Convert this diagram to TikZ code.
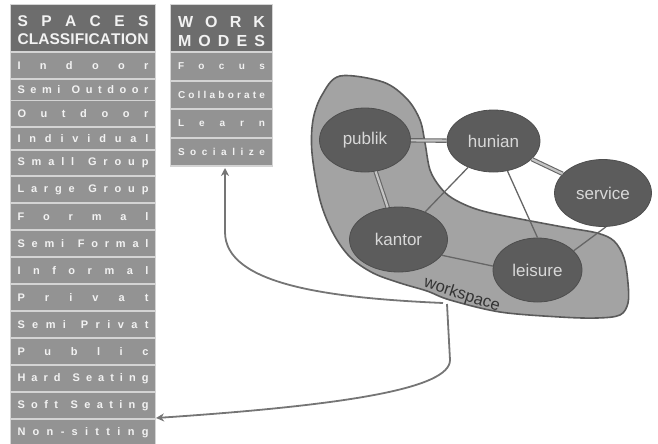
\documentclass[tikz,border=0pt]{standalone}
\usepackage{fontspec}
\setmainfont{Liberation Sans}
\usetikzlibrary{shapes.geometric,arrows.meta}
\definecolor{hdr}{HTML}{6D6D6D}
\definecolor{rowc}{HTML}{939393}
\definecolor{sepc}{HTML}{D4D4D4}
\definecolor{dblc}{HTML}{C4C4C4}
\definecolor{blobc}{HTML}{A3A3A3}
\definecolor{blobline}{HTML}{5A5A5A}
\definecolor{ellc}{HTML}{5C5C5C}
\definecolor{linec}{HTML}{666666}
\definecolor{txtl}{HTML}{F2F2F2}
\definecolor{elltxt}{HTML}{D8D8D8}
\definecolor{wstxt}{HTML}{333333}
\ExplSyntaxOn
\tl_new:N \l_spr_tl
\NewDocumentCommand \spreadtext { m m }
  {
    \tl_set:Nn \l_spr_tl { #2 }
    \tl_replace_all:Nnn \l_spr_tl { ~ } { | }
    \makebox[#1][s]{ \tl_map_inline:Nn \l_spr_tl { \str_if_eq:nnTF {##1} {|} { \hfill } { ##1 \hfill } } \unskip }
  }
\ExplSyntaxOff
\tikzset{
  colbg/.style={fill=sepc, draw=none, inner sep=0pt, outer sep=0pt},
  hdrbox/.style={fill=hdr, draw=none, inner sep=0pt, outer sep=0pt},
  hdrtxt/.style={inner sep=0pt, align=center, text=txtl, font=\fontsize{15.5}{18}\selectfont\bfseries},
  rowL/.style={fill=rowc, draw=none, inner sep=0pt, outer sep=0pt, minimum width=144pt, text=txtl, font=\fontsize{11}{12}\selectfont\bfseries},
  rowW/.style={rowL, minimum width=101pt, font=\fontsize{10}{11}\selectfont\bfseries},
  ell/.style={ellipse, fill=ellc, draw=ellc!85!black, line width=0.8pt, text=elltxt, inner sep=0pt, font=\fontsize{17}{20}\selectfont},
  link/.style={draw=linec, line width=1.3pt},
  dbl/.style={draw=linec, line width=1.1pt, double=dblc, double distance=2.2pt},
  conn/.style={draw=linec!90!white, line width=1.8pt, -{Stealth[length=8pt,width=8pt,inset=2.5pt]}},
  blob/.style={fill=blobc, draw=blobline, line width=1.6pt},
}
\begin{document}
\begin{tikzpicture}[x=1pt,y=-1pt]
\useasboundingbox (0,0) rectangle (658,444);
% ---------- spaces classification column
\node[colbg, minimum width=146pt, minimum height=442pt] (spacescol) at (83,225) {};
\node[hdrbox, minimum width=144pt, minimum height=46pt] (spaceshdr) at (83,28) {};
\node[hdrtxt] (spacestitle) at (83,30) {\spreadtext{131pt}{SPACES}\\\spreadtext{131pt}{CLASSIFICATION}};
\node[rowL, minimum height=25pt] (r1) at (83,65.5) {\spreadtext{131pt}{Indoor}};
\node[rowL, minimum height=20pt] (r2) at (83,90) {\spreadtext{131pt}{Semi Outdoor}};
\node[rowL, minimum height=25pt] (r3) at (83,113.5) {\spreadtext{131pt}{Outdoor}};
\node[rowL, minimum height=21pt] (r4) at (83,138.5) {\spreadtext{131pt}{Individual}};
\node[rowL, minimum height=24pt] (r5) at (83,163) {\spreadtext{131pt}{Small Group}};
\node[rowL, minimum height=25pt] (r6) at (83,189.5) {\spreadtext{131pt}{Large Group}};
\node[rowL, minimum height=25pt] (r7) at (83,216.5) {\spreadtext{131pt}{Formal}};
\node[rowL, minimum height=25pt] (r8) at (83,243.5) {\spreadtext{131pt}{Semi Formal}};
\node[rowL, minimum height=25pt] (r9) at (83,270.5) {\spreadtext{131pt}{Informal}};
\node[rowL, minimum height=25pt] (r10) at (83,297.5) {\spreadtext{131pt}{Privat}};
\node[rowL, minimum height=25pt] (r11) at (83,324.5) {\spreadtext{131pt}{Semi Privat}};
\node[rowL, minimum height=25pt] (r12) at (83,351.5) {\spreadtext{131pt}{Public}};
\node[rowL, minimum height=25pt] (r13) at (83,378.5) {\spreadtext{131pt}{Hard Seating}};
\node[rowL, minimum height=25pt] (r14) at (83,405.5) {\spreadtext{131pt}{Soft Seating}};
\node[rowL, minimum height=26pt] (r15) at (83,433) {\spreadtext{131pt}{Non-sitting}};
% ---------- work modes column
\node[colbg, minimum width=103pt, minimum height=163pt] (workcol) at (221.5,85.5) {};
\node[hdrbox, minimum width=101pt, minimum height=46pt] (workhdr) at (221.5,28) {};
\node[hdrtxt, font=\fontsize{16}{18.5}\selectfont\bfseries] (worktitle) at (221.5,31.5) {\spreadtext{87pt}{WORK}\\\spreadtext{87pt}{MODES}};
\node[rowW, minimum height=27pt] (w1) at (221.5,66.5) {\spreadtext{87pt}{Focus}};
\node[rowW, minimum height=26pt] (w2) at (221.5,95) {\spreadtext{87pt}{Collaborate}};
\node[rowW, minimum height=27pt] (w3) at (221.5,123.5) {\spreadtext{87pt}{Learn}};
\node[rowW, minimum height=26pt] (w4) at (221.5,152) {\spreadtext{87pt}{Socialize}};
% ---------- connector end points
\coordinate (wsA) at (443,303);
\coordinate (wsB) at (447,304);
\coordinate (wmtip) at (225,168);
\coordinate (sstip) at (156,418);
\draw[conn] (wsA) .. controls (330,298) and (225,285) .. (225,232) -- (wmtip);
\draw[conn] (wsB) -- (450,360) .. controls (450,388) and (350,405) .. (sstip);
% ---------- workspace blob
\draw[blob] plot[smooth cycle, tension=0.55] coordinates {
  (340,76) (383,82) (407,99) (420,120) (425,143) (430,170) (440,187) (452,198)
  (473,208) (500,215) (563,227) (597,233) (614,241) (624,258) (628,283) (628,303)
  (620,315) (597,318) (560,317) (500,312) (450,300) (427,291) (400,283) (373,273)
  (350,257) (333,233) (320,200) (312,153) (313,120) (322,95)};
\node[rotate=-18, text=wstxt, inner sep=0pt, font=\fontsize{16.5}{19}\selectfont] (wslabel) at (462,295) {workspace};
% ---------- ellipses
\node[ell, minimum width=91pt, minimum height=64pt] (publik) at (365,140) {publik};
\node[ell, minimum width=93pt, minimum height=62pt] (hunian) at (493.5,141) {hunian};
\node[ell, minimum width=97pt, minimum height=67pt] (service) at (603,193) {service};
\node[ell, minimum width=98pt, minimum height=65pt] (kantor) at (398.5,239.5) {kantor};
\node[ell, minimum width=89pt, minimum height=64pt] (leisure) at (537.5,270) {leisure};
% ---------- edges
\draw[dbl] (publik) -- (hunian);
\draw[dbl] (publik) -- (kantor);
\draw[dbl] (hunian) -- (service);
\draw[link] (hunian) -- (kantor);
\draw[link] (hunian.-65) -- (leisure.north);
\draw[link] (kantor.-20) -- (leisure.175);
\draw[link] (service.-85) -- (leisure.28);
\end{tikzpicture}
\end{document}
